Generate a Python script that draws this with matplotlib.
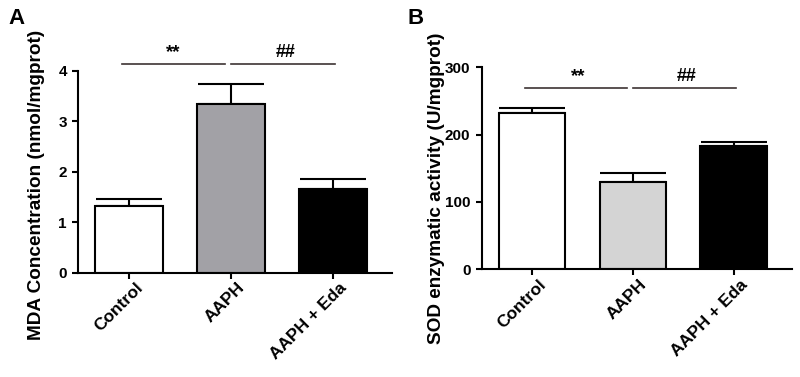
import matplotlib.pyplot as plt
from matplotlib.transforms import ScaledTranslation

plt.rcParams['font.family'] = ['Liberation Sans', 'DejaVu Sans']
plt.rcParams['font.weight'] = 'bold'

groups = ['Control', 'AAPH', 'AAPH + Eda']

mda_mean = [1.32, 3.34, 1.65]
mda_err = [0.13, 0.40, 0.21]
mda_colors = ['white', '#a2a1a6', 'black']

sod_mean = [232, 130, 183]
sod_err = [8, 13, 6]
sod_colors = ['white', '#d4d4d4', 'black']

sig_color = '#3d3333'


def style_axis(ax, fig):
    ax.spines['top'].set_visible(False)
    ax.spines['right'].set_visible(False)
    ax.spines['left'].set_linewidth(1.5)
    ax.spines['bottom'].set_linewidth(1.5)
    ax.tick_params(axis='both', width=1.5, length=4.5)
    ax.tick_params(axis='y', labelsize=11)
    ax.tick_params(axis='x', labelsize=12.5, pad=1)
    ax.set_xticks(range(len(groups)))
    ax.set_xticklabels(groups, rotation=45, ha='right', va='top',
                       rotation_mode='anchor', fontweight='bold')
    shift = ScaledTranslation(4.5 / 72, 0, fig.dpi_scale_trans)
    for lab in ax.get_xticklabels():
        lab.set_transform(lab.get_transform() + shift)
    for lab in ax.get_yticklabels():
        lab.set_fontweight('bold')
    ax.set_xlim(-0.5, 2.58)


def draw_bars(ax, means, errs, colors):
    x = list(range(len(means)))
    ax.bar(x, means, width=0.66, color=colors, edgecolor='black', linewidth=1.5,
           zorder=2)
    ax.errorbar(x, means, yerr=[[0] * len(errs), errs], fmt='none',
                ecolor='black', elinewidth=1.5, capsize=24, capthick=1.5,
                zorder=1)


def sig_bars(ax, y, texty, labels, pos):
    ax.plot([-0.07, 0.945], [y, y], color=sig_color, lw=1.2, clip_on=False)
    ax.plot([1.0, 2.02], [y, y], color=sig_color, lw=1.2, clip_on=False)
    ax.text(pos[0], texty, labels[0], ha='center', va='bottom', fontsize=13.5,
            fontweight='bold', clip_on=False)
    ax.text(pos[1], texty, labels[1], ha='center', va='bottom', fontsize=13,
            fontweight='bold', clip_on=False)


fig = plt.figure(figsize=(8, 3.77), dpi=100)

axA = fig.add_axes([0.0975, 0.277, 0.3925, 0.5355])
draw_bars(axA, mda_mean, mda_err, mda_colors)
style_axis(axA, fig)
axA.set_ylim(0, 4)
axA.set_yticks([0, 1, 2, 3, 4])
axA.set_ylabel('MDA Concentration (nmol/mgprot)', fontsize=13.7,
               fontweight='bold')
axA.yaxis.set_label_coords(-0.105, 0.434)
sig_bars(axA, 4.13, 4.2, ['**', '##'], [0.43, 1.54])
fig.text(0.01, 0.936, 'A', fontsize=16, fontweight='bold')

axB = fig.add_axes([0.602, 0.286, 0.388, 0.535])
draw_bars(axB, sod_mean, sod_err, sod_colors)
style_axis(axB, fig)
axB.set_ylim(0, 300)
axB.set_yticks([0, 100, 200, 300])
axB.set_ylabel('SOD enzymatic activity (U/mgprot)', fontsize=13.7,
               fontweight='bold')
axB.yaxis.set_label_coords(-0.118, 0.40)
sig_bars(axB, 269, 274, ['**', '##'], [0.455, 1.53])
fig.text(0.509, 0.936, 'B', fontsize=16, fontweight='bold')

fig.savefig('out.png', dpi=100)
